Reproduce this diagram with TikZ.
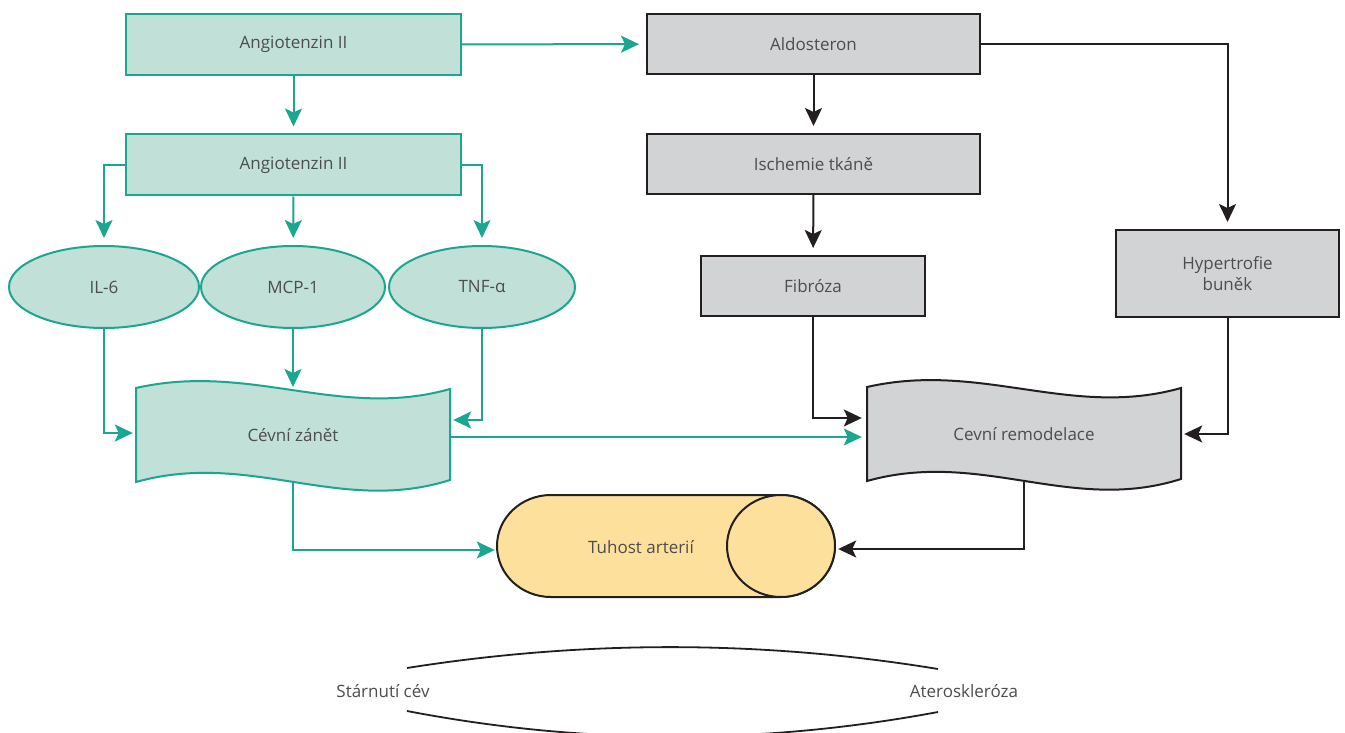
\documentclass[tikz,border=0pt]{standalone}
\usepackage{fontspec}
\setmainfont{Open Sans}
\usetikzlibrary{arrows.meta,shapes.geometric,calc}
\definecolor{tealline}{HTML}{1BA68F}
\definecolor{tealfill}{HTML}{C0E0D8}
\definecolor{greyfill}{HTML}{D1D3D4}
\definecolor{inkline}{HTML}{231F20}
\definecolor{sandfill}{HTML}{FDE09B}
\definecolor{txtgrey}{HTML}{4D4D4F}
% banner outline with wavy top and bottom, drawn from its top-left corner
\newcommand\wavyoutline{(0,0) .. controls (114,-26) and (204,32) .. (314,1) -- (314,92)
  .. controls (204,127) and (114,62) .. (0,94) -- cycle}
\begin{document}
\begin{tikzpicture}[x=1pt,y=-1pt,
  every node/.style={font=\fontsize{17}{21}\selectfont, text=txtgrey, align=center, inner sep=0pt},
  tealbox/.style={draw=tealline, fill=tealfill, line width=2pt, minimum width=335pt, minimum height=61pt},
  greybox/.style={draw=inkline, fill=greyfill, line width=2pt},
  tealoval/.style={ellipse, draw=tealline, fill=tealfill, line width=2pt, minimum height=82pt},
  tealshape/.style={draw=tealline, fill=tealfill, line width=2pt},
  greyshape/.style={draw=inkline, fill=greyfill, line width=2pt},
  sandshape/.style={draw=inkline, fill=sandfill, line width=2pt},
  tiparrow/.style={-{Stealth[length=18pt,width=17pt,inset=4pt]}, line width=2pt},
  tealarrow/.style={tiparrow, draw=tealline},
  inkarrow/.style={tiparrow, draw=inkline},
  gap/.style={shorten >=7pt},
  arcline/.style={draw=inkline, line width=1.8pt}
]
\useasboundingbox (0,0) rectangle (1345,733);

% left column: angiotensin and cytokines
\node[tealbox] (ang1) at (293.5,44.5) {Angiotenzin II};
\node[tealbox] (ang2) at (293.5,165) {Angiotenzin II};
\node[tealoval, minimum width=190pt] (il6) at (104,287) {IL-6};
\node[tealoval, minimum width=184pt] (mcp) at (293,287) {MCP-1};
\node[tealoval, minimum width=186pt] (tnf) at (482,287) {TNF-α};

% right column: aldosterone pathway
\node[greybox, minimum width=333pt, minimum height=60pt] (ald) at (813.5,44) {Aldosteron};
\node[greybox, minimum width=333pt, minimum height=60pt] (isc) at (813.5,164) {Ischemie tkáně};
\node[greybox, minimum width=224pt, minimum height=60pt] (fib) at (813,286) {Fibróza};
\node[greybox, minimum width=223pt, minimum height=87pt] (hyp) at (1227.5,273.5) {Hypertrofie\\buněk};

% wavy banners
\draw[tealshape, shift={(136,388)}] \wavyoutline;
\draw[greyshape, shift={(867,387)}] \wavyoutline;
\node[minimum width=314pt, minimum height=94pt] (zan) at (293,435) {Cévní zánět};
\node[minimum width=314pt, minimum height=94pt] (rem) at (1024,434) {Cevní remodelace};

% arterial stiffness as a horizontal cylinder
\draw[sandshape] (551,495) -- (781,495)
  arc[start angle=-90, end angle=90, x radius=54, y radius=51] -- (551,597)
  arc[start angle=90, end angle=270, x radius=54, y radius=51] -- cycle;
\draw[sandshape] (781,546) ellipse [x radius=54, y radius=51];
\node[minimum width=338pt, minimum height=102pt] (tuh) at (666,546) {};
\node (tuhlabel) at (641,547) {Tuhost arterií};

% bottom: ageing and atherosclerosis
\node (sta) at (383,691) {Stárnutí cév};
\node (ate) at (964,691) {Ateroskleróza};
\draw[arcline] ($(sta)+(24,-23)$) .. controls (584,640) and (761,640) .. ($(ate)+(-26,-22)$);
\draw[arcline] ($(sta)+(24,20)$) .. controls (584,745) and (761,745) .. ($(ate)+(-26,21)$);

% teal connectors
\draw[tealarrow, gap] (ang1) -- (ang2);
\draw[tealarrow, gap] (ang1) -- (ald);
\draw[tealarrow, gap] (ang2.west) -| (il6.north);
\draw[tealarrow, gap] (ang2) -- (mcp);
\draw[tealarrow, gap] (ang2.east) -| (tnf.north);
\draw[tealarrow, shorten >=3pt] (il6.south) |- ($(zan.west)+(0,-2)$);
\draw[tealarrow, shorten >=1pt] (mcp.south) -- (mcp.south |- 0,388);
\draw[tealarrow, shorten >=3pt] (tnf.south) |- ($(zan.east)+(0,-15)$);
\draw[tealarrow, shorten >=5pt] ($(zan.east)+(0,2)$) -- ($(rem.west)+(0,3)$);
\draw[tealarrow, shorten >=2pt] (zan.south) |- ($(tuh.west)+(0,4)$);

% dark connectors
\draw[inkarrow, gap] (ald) -- (isc);
\draw[inkarrow, gap] (ald.east) -| (hyp.north);
\draw[inkarrow, gap] (isc) -- (fib);
\draw[inkarrow, shorten >=5pt] (fib.south) |- ($(rem.west)+(0,-16)$);
\draw[inkarrow, shorten >=3pt] (hyp.south) |- (rem.east);
\draw[inkarrow, shorten >=3pt] (rem.south) |- ($(tuh.east)+(0,3)$);
\end{tikzpicture}
\end{document}
